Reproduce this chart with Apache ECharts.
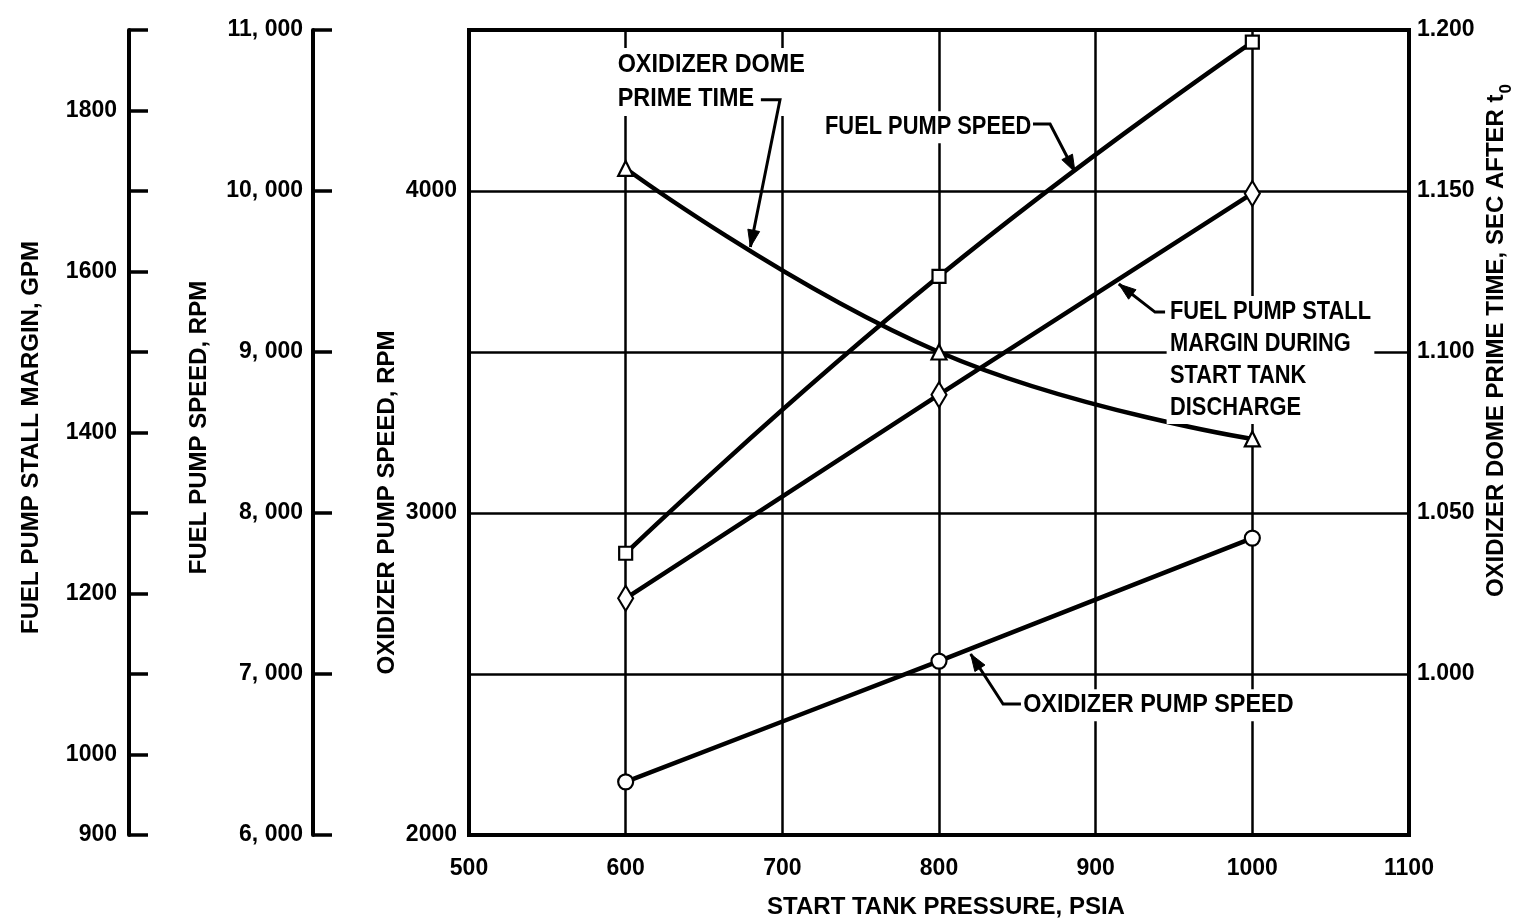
<!DOCTYPE html>
<html>
<head>
<meta charset="utf-8">
<script src="https://cdn.jsdelivr.net/npm/echarts@6/dist/echarts.min.js"></script>
<style>
html,body{margin:0;padding:0;background:#fff;}
#chart{width:1525px;height:924px;}
</style>
</head>
<body>
<div id="chart"></div>
<script>
// ---- data ----
const pressure = [600, 800, 1000];
const fuelPumpSpeed = [7750, 9470, 10925];
const domePrimeTime = [1.157, 1.100, 1.073];
const stallMargin = [1194, 1447, 1697];
const oxPumpSpeed = [2165, 2540, 2922];

// ---- tick labels ----
const xTickValues = [500, 600, 700, 800, 900, 1000, 1100];
const xTickLabels = ['500', '600', '700', '800', '900', '1000', '1100'];
const oxTickValues = [2000, 3000, 4000];
const oxTickLabels = ['2000', '3000', '4000'];
const fuelTickValues = [6000, 7000, 8000, 9000, 10000, 11000];
const fuelTickLabels = ['6, 000', '7, 000', '8, 000', '9, 000', '10, 000', '11, 000'];
const stallTickValues = [900, 1000, 1200, 1400, 1600, 1800];
const stallTickLabels = ['900', '1000', '1200', '1400', '1600', '1800'];
const timeTickValues = [1.000, 1.050, 1.100, 1.150, 1.200];
const timeTickLabels = ['1.000', '1.050', '1.100', '1.150', '1.200'];

// ---- titles ----
const xName = 'START TANK PRESSURE, PSIA';
const oxName = 'OXIDIZER PUMP SPEED, RPM';
const fuelName = 'FUEL PUMP SPEED, RPM';
const stallName = 'FUEL PUMP STALL MARGIN, GPM';
const timeName = 'OXIDIZER DOME PRIME TIME, SEC AFTER t';
const timeNameSub = '0';

// ---- annotations (text + leader, in pressure / oxidizer-speed units) ----
const annotations = [
  { text: 'OXIDIZER DOME\nPRIME TIME', lh: 34, sx: 0.9, at: [592.6, 4444], leader: [[686.3, 4283], [698.5, 4283], [679.6, 3826]] },
  { text: 'FUEL PUMP SPEED', lh: 32, sx: 0.84, at: [725.1, 4248], leader: [[860.0, 4208], [870.9, 4208], [886.8, 4059]] },
  { text: 'FUEL PUMP STALL\nMARGIN DURING\nSTART TANK\nDISCHARGE', lh: 32, sx: 0.84, at: [945.3, 3674], leader: [[944.3, 3624], [937.9, 3624], [914.8, 3711]] },
  { text: 'OXIDIZER PUMP SPEED', lh: 32, sx: 0.9, at: [851.4, 2453], leader: [[852.3, 2407], [840.9, 2407], [820.2, 2562]] }
];

const FONT = '"Liberation Sans", Arimo, Arial, sans-serif';
const black = '#000';

function pick(values, labels, eps) {
  return function (v) {
    for (let i = 0; i < values.length; i++) {
      if (Math.abs(values[i] - v) < eps) return labels[i];
    }
    return '';
  };
}

const labelStyle = { color: black, fontFamily: FONT, fontWeight: 'bold', fontSize: 23 };
function nameStyle(extra) {
  return Object.assign({ color: black, fontFamily: FONT, fontWeight: 'bold', fontSize: 24 }, extra || {});
}

const chart = echarts.init(document.getElementById('chart'), null, { renderer: 'canvas' });

const markerStyle = { color: '#fff', borderColor: black, borderWidth: 2.2 };
const lineStyle = { color: black, width: 4.5 };

function mkSeries(name, data, yIdx, symbol, size, smooth) {
  return {
    name: name,
    type: 'line',
    yAxisIndex: yIdx,
    data: pressure.map((p, i) => [p, data[i]]),
    symbol: symbol,
    symbolSize: size,
    showSymbol: true,
    smooth: smooth,
    lineStyle: lineStyle,
    itemStyle: markerStyle,
    z: 5
  };
}

const option = {
  backgroundColor: '#fff',
  animation: false,
  grid: {
    left: 469, right: 116, top: 30, bottom: 89,
    outerBoundsMode: 'none', containLabel: false,
    show: true, borderColor: black, borderWidth: 4, backgroundColor: 'transparent'
  },
  xAxis: {
    type: 'value', min: 500, max: 1100, interval: 100,
    axisLine: { show: true, lineStyle: { color: black, width: 4 } },
    axisTick: { show: false },
    splitLine: { show: true, lineStyle: { color: black, width: 2.5 } },
    axisLabel: Object.assign({ margin: 22, formatter: pick(xTickValues, xTickLabels, 1) }, labelStyle),
    name: xName, nameLocation: 'middle', nameGap: 60, nameMoveOverlap: false,
    nameTextStyle: nameStyle({ padding: [0, 0, 0, 14] })
  },
  yAxis: [
    {
      type: 'value', position: 'left', min: 2000, max: 4500, interval: 500,
      axisLine: { show: true, lineStyle: { color: black, width: 4 } },
      axisTick: { show: false },
      splitLine: { show: true, lineStyle: { color: black, width: 2.5 } },
      axisLabel: Object.assign({ margin: 12, formatter: pick(oxTickValues, oxTickLabels, 1) }, labelStyle),
      name: oxName, nameLocation: 'middle', nameGap: 70, nameRotate: 90, nameMoveOverlap: false,
      nameTextStyle: nameStyle({ padding: [0, 140, 0, 0] })
    },
    {
      type: 'value', position: 'left', offset: 156, min: 6000, max: 11000, interval: 1000,
      axisLine: { show: true, lineStyle: { color: black, width: 4 } },
      axisTick: { show: true, inside: true, length: 19, lineStyle: { color: black, width: 3.5 } },
      splitLine: { show: false },
      axisLabel: Object.assign({ margin: 10, formatter: pick(fuelTickValues, fuelTickLabels, 1) }, labelStyle),
      name: fuelName, nameLocation: 'middle', nameGap: 102, nameRotate: 90, nameMoveOverlap: false,
      nameTextStyle: nameStyle({ padding: [0, 0, 0, 10] })
    },
    {
      type: 'value', position: 'left', offset: 340, min: 900, max: 1900, interval: 100,
      axisLine: { show: true, lineStyle: { color: black, width: 4 } },
      axisTick: { show: true, inside: true, length: 19, lineStyle: { color: black, width: 3.5 } },
      splitLine: { show: false },
      axisLabel: Object.assign({ margin: 12, formatter: pick(stallTickValues, stallTickLabels, 1) }, labelStyle),
      name: stallName, nameLocation: 'middle', nameGap: 86, nameRotate: 90, nameMoveOverlap: false,
      nameTextStyle: nameStyle({ padding: [0, 10, 0, 0] })
    },
    {
      type: 'value', position: 'right', min: 0.95, max: 1.2, interval: 0.05,
      axisLine: { show: true, lineStyle: { color: black, width: 4 } },
      axisTick: { show: false },
      splitLine: { show: false },
      axisLabel: Object.assign({ margin: 8, formatter: pick(timeTickValues, timeTickLabels, 1e-6) }, labelStyle),
      name: timeName + '{s|' + timeNameSub + '}', nameLocation: 'middle', nameGap: 75, nameRotate: 90, nameMoveOverlap: false,
      nameTextStyle: nameStyle({
        padding: [0, 0, 0, 184],
        rich: { s: { fontFamily: FONT, fontWeight: 'bold', fontSize: 17, color: black, verticalAlign: 'bottom', padding: [0, 0, -7, 1] } }
      })
    }
  ],
  series: [
    mkSeries('FUEL PUMP SPEED', fuelPumpSpeed, 1, 'rect', 13, 0.5),
    mkSeries('OXIDIZER DOME PRIME TIME', domePrimeTime, 3, 'triangle', 15, 0.45),
    mkSeries('FUEL PUMP STALL MARGIN DURING START TANK DISCHARGE', stallMargin, 2, 'diamond', [15, 25], 0.1),
    mkSeries('OXIDIZER PUMP SPEED', oxPumpSpeed, 0, 'circle', 15, 0.1)
  ]
};

chart.setOption(option);

// ---- annotations placed through the chart's own coordinate conversion ----
function toPx(pt) {
  return chart.convertToPixel({ xAxisIndex: 0, yAxisIndex: 0 }, pt);
}
const graphics = [];
annotations.forEach((a) => {
  const p = toPx(a.at);
  graphics.push({
    type: 'text', z: 50,
    x: p[0], y: p[1], scaleX: a.sx, scaleY: 1,
    style: {
      text: a.text, x: 0, y: 0, align: 'left', verticalAlign: 'top',
      fontFamily: FONT, fontWeight: 'bold', fontSize: 26, lineHeight: a.lh,
      fill: black, backgroundColor: '#fff', padding: [0, 4, 0, 4]
    }
  });
  const pts = a.leader.map(toPx);
  graphics.push({
    type: 'polyline', z: 60,
    shape: { points: pts },
    style: { stroke: black, lineWidth: 3, fill: null }
  });
  const tip = pts[pts.length - 1];
  const prev = pts[pts.length - 2];
  const dx = tip[0] - prev[0], dy = tip[1] - prev[1];
  const len = Math.sqrt(dx * dx + dy * dy);
  const ux = dx / len, uy = dy / len;
  const L = 17, W = 6;
  const bx = tip[0] - ux * L, by = tip[1] - uy * L;
  graphics.push({
    type: 'polygon', z: 61,
    shape: { points: [tip, [bx - uy * W, by + ux * W], [bx + uy * W, by - ux * W]] },
    style: { fill: black, stroke: black, lineWidth: 1 }
  });
});
chart.setOption({ graphic: graphics });
</script>
</body>
</html>
